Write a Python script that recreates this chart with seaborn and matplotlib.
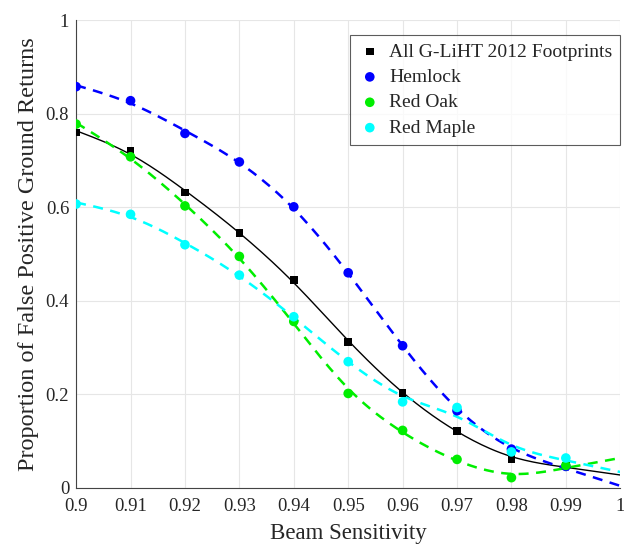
import numpy as np
import pandas as pd
import matplotlib
matplotlib.use("Agg")
import matplotlib.pyplot as plt
import seaborn as sns

sns.set_style("whitegrid")
plt.rcParams['font.family'] = ['Liberation Serif', 'DejaVu Serif']

sensitivity = [0.90, 0.91, 0.92, 0.93, 0.94, 0.95, 0.96, 0.97, 0.98, 0.99]

all_footprints = [0.76, 0.72, 0.632, 0.545, 0.444, 0.312, 0.203, 0.122, 0.062, 0.048]
hemlock = [0.858, 0.828, 0.758, 0.697, 0.601, 0.46, 0.304, 0.165, 0.083, 0.046]
red_oak = [0.778, 0.708, 0.603, 0.495, 0.356, 0.202, 0.123, 0.061, 0.022, 0.048]
red_maple = [0.607, 0.585, 0.52, 0.455, 0.366, 0.27, 0.184, 0.172, 0.077, 0.064]

series = {
    "All G-LiHT 2012 Footprints": (all_footprints, "black", "s", 30, "-", 1.0),
    "Hemlock": (hemlock, "#0000ff", "o", 48, (0, (4, 3)), 1.8),
    "Red Oak": (red_oak, "#00ee00", "o", 48, (0, (4, 3)), 1.8),
    "Red Maple": (red_maple, "#00ffff", "o", 48, (0, (4, 3)), 1.8),
}

rows = []
for name, (vals, *_rest) in series.items():
    for x, v in zip(sensitivity, vals):
        rows.append({"sensitivity": x, "proportion": v, "group": name})
df = pd.DataFrame(rows)


def smooth_spline(x, y, grid, alpha=0.1):
    # penalised (Whittaker) smoother ~ natural cubic smoothing spline
    n = len(grid)
    h = (grid[1] - grid[0]) / (x[1] - x[0])
    W = np.zeros(n)
    b = np.zeros(n)
    for xi, yi in zip(x, y):
        k = int(round((xi - grid[0]) / (grid[1] - grid[0])))
        W[k] = 1.0
        b[k] = yi
    D = np.diff(np.eye(n), 2, axis=0)
    A = np.diag(W) + alpha / h**3 * D.T @ D
    return np.linalg.solve(A, b)


grid = np.linspace(0.9, 1.0, 201)

fig = plt.figure(figsize=(6.24, 5.47), dpi=100)
ax = fig.add_axes([0.122, 0.108, 0.872, 0.855])

for name, (vals, color, marker, size, ls, lw) in series.items():
    sub = df[df["group"] == name]
    fit = pd.DataFrame({"x": grid,
                        "y": smooth_spline(np.array(sensitivity), np.array(vals), grid)})
    sns.lineplot(data=fit, x="x", y="y", color=color, linestyle=ls,
                 linewidth=lw, ax=ax, legend=False)
    sns.scatterplot(data=sub, x="sensitivity", y="proportion", color=color,
                    marker=marker, s=size, edgecolor="none", ax=ax, label=name,
                    zorder=3)

ax.set_xlim(0.9, 1.0)
ax.set_ylim(0, 1)
ax.set_xticks(np.arange(0.9, 1.001, 0.01))
ax.set_yticks(np.arange(0, 1.01, 0.2))
ax.xaxis.set_major_formatter(plt.FuncFormatter(lambda v, p: f"{round(v, 2):g}"))
ax.yaxis.set_major_formatter(plt.FuncFormatter(lambda v, p: f"{round(v, 1):g}"))
ax.tick_params(labelsize=13.5, direction="in", length=4, color="#444444")
ax.tick_params(axis="x", pad=7)
ax.tick_params(axis="y", pad=5)
ax.set_xlabel("Beam Sensitivity", fontsize=16.5, labelpad=6)
ax.set_ylabel("Proportion of False Positive Ground Returns", fontsize=17.5,
              labelpad=5)
ax.grid(True, color="#e6e6e6", linewidth=0.8)
for s in ["top", "right"]:
    ax.spines[s].set_visible(False)
for s in ["left", "bottom"]:
    ax.spines[s].set_color("#444444")
    ax.spines[s].set_linewidth(0.8)

leg = ax.legend(loc="upper right", bbox_to_anchor=(1.0, 0.968), fontsize=14,
                frameon=True, fancybox=False, borderaxespad=0,
                handlelength=1.2, handletextpad=0.4, labelspacing=0.4,
                borderpad=0.4)
leg.get_frame().set_edgecolor("#333333")
leg.get_frame().set_linewidth(0.8)

fig.savefig("out.png", dpi=100)
